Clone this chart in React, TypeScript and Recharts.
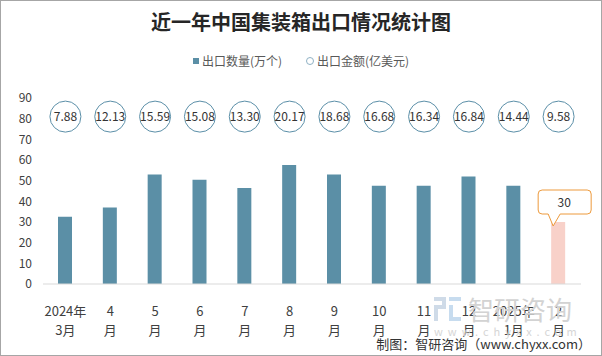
import * as React from 'react';
import { ComposedChart, Bar, Line, XAxis, YAxis, Cell, LabelList } from 'recharts';

const categories = ['2024年3月', '4月', '5月', '6月', '7月', '8月', '9月', '10月', '11月', '12月', '2025年1月', '2月'];
// 出口数量(万个)
const quantity = [32.5, 37, 53, 50.5, 46.5, 57.6, 53, 47.5, 47.5, 52, 47.5, 30];
// 出口金额(亿美元)
const amount = [7.88, 12.13, 15.59, 15.08, 13.3, 20.17, 18.68, 16.68, 16.34, 16.84, 14.44, 9.58];
// helper row the amount bubbles sit on (value on the left axis)
const bubbleRow = 81;
const yTicks = [0, 10, 20, 30, 40, 50, 60, 70, 80, 90];

const data = categories.map((c, i) => ({
  name: c,
  quantity: quantity[i],
  amount: amount[i],
  row: bubbleRow,
}));

const FONT = '"Noto Sans CJK SC", "Noto Sans", sans-serif';
const BAR = '#5b8fa6';
const BAR_LAST = '#f8d1c9';
const lastIdx = categories.length - 1;

function XTick(props: any) {
  const { x, y, payload } = props;
  const v: string = payload.value;
  const m = v.match(/^(\d+年)(\d+月)$/);
  const l1 = m ? m[1] : v.replace('月', '');
  const l2 = m ? m[2] : '月';
  return (
    <g>
      <text x={x} y={y} dy={24} textAnchor="middle" fontSize={13} fill="#404040" fontFamily={FONT}>{l1}</text>
      <text x={x} y={y} dy={43} textAnchor="middle" fontSize={13} fill="#404040" fontFamily={FONT}>{l2}</text>
    </g>
  );
}

function Bubble(props: any) {
  const { cx, cy, index } = props;
  return (
    <g key={'b' + index}>
      <circle cx={cx} cy={cy} r={15.5} fill="#fff" stroke="#5b8fa8" strokeWidth={1} />
      <text x={cx} y={cy} dy={4.5} textAnchor="middle" fontSize={12} fill="#333" fontFamily={FONT}>
        {amount[index].toFixed(2)}
      </text>
    </g>
  );
}

function Callout(props: any) {
  const { x, y, width, value, index } = props;
  if (index !== lastIdx) return null;
  const cx = x + width / 2;
  const top = y;
  const l = cx - 20, r = cx + 33, t = top - 32, b = top - 8, q = 4;
  const d = `M${l + q},${t} H${r - q} Q${r},${t} ${r},${t + q} V${b - q} Q${r},${b} ${r - q},${b} H${cx + 2} L${cx - 5},${top + 4} L${cx - 10},${b} H${l + q} Q${l},${b} ${l},${b - q} V${t + q} Q${l},${t} ${l + q},${t} Z`;
  return (
    <g>
      <path d={d} fill="#fff" stroke="#ed9a3c" strokeWidth={1} />
      <text x={cx + 6} y={top - 20} dy={4.5} textAnchor="middle" fontSize={12} fill="#333" fontFamily={FONT}>{value}</text>
    </g>
  );
}

export default function App() {
  return (
    <div style={{ position: 'absolute', left: 0, top: 0, width: 602, height: 356, background: '#fff', boxSizing: 'border-box', border: '1px solid #a6a6a6', fontFamily: FONT }}>
      <div style={{ position: 'absolute', left: 0, top: 0 }}>
        <ComposedChart width={600} height={354} data={data} margin={{ top: 97, right: 20, bottom: 21, left: 2 }}>
          <XAxis
            dataKey="name"
            interval={0}
            height={50}
            tickLine={false}
            axisLine={{ stroke: '#d9d9d9' }}
            tick={<XTick />}
          />
          <YAxis
            width={40}
            domain={[0, 90]}
            ticks={yTicks}
            axisLine={false}
            tickLine={false}
            tickMargin={5}
            tick={{ fontSize: 12, fill: '#404040', fontFamily: FONT }}
          />
          <Bar dataKey="quantity" barSize={14} isAnimationActive={false}>
            {data.map((d, i) => (
              <Cell key={i} fill={i === lastIdx ? BAR_LAST : BAR} />
            ))}
            <LabelList dataKey="quantity" content={<Callout />} />
          </Bar>
          <Line dataKey="row" stroke="none" dot={Bubble} activeDot={false} isAnimationActive={false} />
        </ComposedChart>
      </div>

      {/* title */}
      <div style={{ position: 'absolute', left: 0, width: 600, top: 8, textAlign: 'center', fontSize: 20, fontWeight: 700, color: '#262626', lineHeight: '26px' }}>
        近一年中国集装箱出口情况统计图
      </div>

      {/* legend */}
      <div style={{ position: 'absolute', left: 0, width: 600, top: 51, display: 'flex', justifyContent: 'center', alignItems: 'center', fontSize: 12, color: '#595959', lineHeight: '18px' }}>
        <span style={{ display: 'inline-block', width: 6, height: 6, background: BAR, marginRight: 3 }} />
        <span>出口数量(万个)</span>
        <span style={{ display: 'inline-block', width: 6, height: 6, borderRadius: '50%', border: '1px solid #8fb1c4', marginLeft: 24, marginRight: 3 }} />
        <span>出口金额(亿美元)</span>
      </div>

      {/* watermark */}
      <svg style={{ position: 'absolute', left: 432, top: 294, pointerEvents: 'none' }} width={166} height={44}>
        <rect x={1} y={2} width={12} height={4} fill="#cfdbe8" />
        <rect x={9} y={2} width={4} height={12} fill="#cfdbe8" />
        <rect x={1} y={10} width={12} height={4} fill="#cfdbe8" />
        <rect x={1} y={10} width={4} height={16} fill="#cfdbe8" />
        <rect x={16} y={2} width={12} height={4} fill="#c7dcef" />
        <rect x={16} y={10} width={4} height={16} fill="#c7dcef" />
        <rect x={16} y={22} width={12} height={4} fill="#c7dcef" />
        <text x={35} y={25} fontSize={26} fill="#d3d3d3" fontFamily={FONT}>智研咨询</text>
        <text x={1} y={41} fontSize={11} fill="#d6d6d6" fontFamily={FONT} letterSpacing={5}>www.chyxx.com</text>
      </svg>

      {/* source */}
      <div style={{ position: 'absolute', right: 10, top: 334, fontSize: 13, color: '#333', lineHeight: '18px', whiteSpace: 'nowrap' }}>
        制图：智研咨询（www.chyxx.com）
      </div>
    </div>
  );
}
